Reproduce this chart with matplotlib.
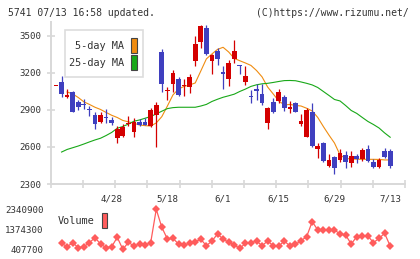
import matplotlib.pyplot as plt
import numpy as np
from matplotlib.patches import Rectangle

# ---- data ----
opens  = [3095, 3125, 3008, 3043, 2962, 2946, 2903, 2860, 2805, 2842,
          2819, 2675, 2692, 2788, 2724, 2805, 2805, 2773, 2859, 3373,
          3050, 3111, 3149, 3095, 3084, 3300, 3454, 3562, 3300, 3378,
          3200, 3151, 3314, 3262, 3130, 3010, 3070, 3030, 2792, 2967,
          2973, 3003, 2906, 2954, 2784, 2684, 2886, 2584, 2630, 2448,
          2516, 2495, 2533, 2468, 2527, 2503, 2584, 2478, 2441, 2568, 2568]
highs  = [3095, 3176, 3070, 3050, 2981, 2987, 2932, 2884, 2886, 2906,
          2846, 2770, 2790, 2850, 2833, 2825, 2833, 2915, 2967, 3392,
          3089, 3224, 3170, 3149, 3192, 3500, 3585, 3589, 3350, 3400,
          3257, 3305, 3468, 3265, 3257, 3062, 3111, 3111, 2925, 2995,
          3070, 3022, 2973, 2967, 2868, 2919, 2954, 2630, 2641, 2543,
          2530, 2584, 2568, 2568, 2543, 2594, 2616, 2500, 2508, 2594, 2584]
lows   = [3095, 3008, 3000, 2886, 2900, 2906, 2854, 2746, 2792, 2797,
          2778, 2630, 2680, 2770, 2679, 2770, 2775, 2765, 2602, 3048,
          2981, 3048, 3013, 3013, 3040, 3257, 3400, 3346, 3192, 3265,
          3070, 3095, 3279, 3195, 3103, 2954, 2981, 2940, 2748, 2873,
          2954, 2894, 2873, 2880, 2770, 2680, 2597, 2513, 2476, 2440,
          2381, 2476, 2432, 2441, 2468, 2489, 2481, 2427, 2427, 2510, 2432]
closes = [3095, 3027, 3025, 2886, 2922, 2940, 2897, 2787, 2859, 2835,
          2792, 2748, 2765, 2795, 2805, 2780, 2782, 2900, 2941, 3111,
          3058, 3202, 3022, 3105, 3165, 3435, 3581, 3354, 3346, 3314,
          3194, 3279, 3378, 3257, 3176, 3005, 3057, 2954, 2919, 2886,
          3048, 2914, 2927, 2886, 2813, 2900, 2608, 2608, 2486, 2495,
          2432, 2554, 2481, 2527, 2503, 2576, 2489, 2441, 2495, 2521, 2448]

ma5 = [np.nan, np.nan, 3046, 3030, 3001, 2966, 2945, 2922, 2904, 2880,
       2857, 2839, 2815, 2804, 2792, 2778, 2773, 2770, 2795, 2846,
       2932, 3022, 3070, 3091, 3103, 3119, 3216, 3314, 3354, 3391,
       3408, 3370, 3318, 3299, 3281, 3261, 3220, 3168, 3086, 3030,
       2973, 2941, 2945, 2937, 2932, 2914, 2892, 2839, 2766, 2697,
       2632, 2535, 2507, 2503, 2501, 2500, 2500, 2500, 2499, 2495, 2495]
ma25 = [np.nan, 2559, 2580, 2594, 2608, 2624, 2641, 2657, 2671, 2693,
        2718, 2752, 2766, 2786, 2809, 2819, 2833, 2847, 2868, 2890,
        2911, 2919, 2922, 2922, 2922, 2922, 2932, 2945, 2969, 2987,
        3003, 3015, 3028, 3050, 3069, 3091, 3104, 3112, 3116, 3123,
        3131, 3138, 3139, 3137, 3127, 3116, 3103, 3082, 3050, 3018,
        2985, 2973, 2936, 2896, 2872, 2839, 2807, 2782, 2754, 2714, 2679]

# volume starts from the second session
volume = [696000, 535000, 728000, 486000, 535000, 728000, 970000, 664000, 486000, 535000,
          986000, 407700, 745000, 567000, 664000, 615000, 728000, 2340900, 1469000, 905000,
          938000, 664000, 615000, 696000, 776000, 889000, 583000, 809000, 1147000, 905000,
          745000, 615000, 454000, 696000, 728000, 809000, 583000, 809000, 583000, 567000,
          809000, 567000, 648000, 825000, 1018000, 1743000, 1340000, 1325000, 1340000, 1340000,
          1147000, 1099000, 664000, 1018000, 1050000, 1050000, 728000, 938000, 1180000, 567000]

date_labels = ['4/28', '5/18', '6/1', '6/15', '6/29', '7/13']
date_pos = [10, 20, 30, 40, 50, 60]
price_ticks = [2300, 2600, 2900, 3200, 3500]

RED = '#d40000'
BLUE = '#3f3fbf'
ORANGE = '#f08c10'
GREEN = '#18a818'
VOLC = '#ff5c5c'
GRID = '#d8d8d8'
TXT = '#333333'
MONO = 'DejaVu Sans Mono'

fig = plt.figure(figsize=(4.2, 2.59), dpi=100)
W, H = 420, 259

# ---- price panel ----
ax = fig.add_axes([50.7 / W, 1 - 184 / H, (405 - 50.7) / W, (184 - 22) / H])
x = np.arange(len(opens))
xlim = (-0.95, 62.66)

ax.plot(x, ma5, color=ORANGE, lw=0.8, zorder=1)
ax.plot(x, ma25, color=GREEN, lw=0.8, zorder=1)

o = np.array(opens); c = np.array(closes)
cols = [RED if cc >= oo else BLUE for oo, cc in zip(o, c)]
ax.vlines(x, lows, highs, colors=cols, lw=0.9, zorder=2)
bot = np.minimum(o, c)
hgt = np.maximum(np.abs(c - o), 10)
ax.bar(x, hgt, bottom=bot, width=0.85, color=cols, lw=0, zorder=3)

ax.set_xlim(*xlim)
ax.set_ylim(2300, 3613)
ax.set_yticks(price_ticks)
ax.set_yticklabels([str(p) for p in price_ticks])
ax.set_xticks(date_pos)
ax.set_xticklabels(date_labels)
ax.set_xticks(np.linspace(xlim[0], xlim[1], 12), minor=True)
ax.tick_params(axis='x', which='major', length=0, pad=7.5, labelsize=6.6, labelcolor=TXT)
ax.tick_params(axis='x', which='minor', direction='inout', length=6, width=1.2, color=GRID)
ax.tick_params(axis='y', direction='inout', length=6, width=1.2, color=GRID,
               pad=4, labelsize=6.6, labelcolor=TXT)
for lab in ax.get_xticklabels() + ax.get_yticklabels():
    lab.set_family(MONO)
for s in ['top', 'right']:
    ax.spines[s].set_visible(False)
for s in ['left', 'bottom']:
    ax.spines[s].set_color(GRID)
    ax.spines[s].set_linewidth(1.4)

# ---- volume panel ----
vx = np.arange(1, len(volume) + 1)
vax = fig.add_axes([50.7 / W, 1 - 249.3 / H, (405 - 50.7) / W, 40 / H])
vax.plot(vx, volume, color=VOLC, lw=0.9, marker='D', markersize=4.0,
         markeredgewidth=0, clip_on=False)
vmin, vmax = min(volume), max(volume)
vax.set_xlim(*xlim)
vax.set_ylim(vmin, vmax)
vax.set_yticks([vmin, (vmin + vmax) // 2, vmax])
vax.set_yticklabels([str(int(v)) for v in [vmin, (vmin + vmax) // 2, vmax]])
vax.set_xticks([])
vax.tick_params(axis='y', length=0, pad=5, labelsize=6.6, labelcolor=TXT)
for lab in vax.get_yticklabels():
    lab.set_family(MONO)
for s in vax.spines.values():
    s.set_visible(False)
vax.patch.set_alpha(0)

# ---- header ----
fig.text(8 / W, 1 - 12.7 / H, '5741 07/13 16:58 updated.', family=MONO,
         size=7.0, color=TXT, va='center', ha='left')
fig.text(409 / W, 1 - 12.7 / H, '(C)https://www.rizumu.net/', family=MONO,
         size=7.0, color=TXT, va='center', ha='right')

# ---- legend box ----
fig.add_artist(Rectangle((65 / W, 1 - 77 / H), 78 / W, 47 / H, transform=fig.transFigure,
                         facecolor='white', edgecolor='#dddddd', lw=1.2, zorder=5))
fig.text(124 / W, 1 - 46 / H, '5-day MA', family=MONO, size=7.4, color=TXT,
         va='center', ha='right', zorder=6)
fig.text(124 / W, 1 - 63.3 / H, '25-day MA', family=MONO, size=7.4, color=TXT,
         va='center', ha='right', zorder=6)
fig.add_artist(Rectangle((131 / W, 1 - 52.7 / H), 6 / W, 15 / H, transform=fig.transFigure,
                         facecolor=ORANGE, edgecolor='#444444', lw=0.8, zorder=6))
fig.add_artist(Rectangle((131 / W, 1 - 69.5 / H), 6 / W, 15 / H, transform=fig.transFigure,
                         facecolor=GREEN, edgecolor='#444444', lw=0.8, zorder=6))

# volume legend
fig.text(94 / W, 1 - 221.5 / H, 'Volume', family=MONO, size=7.4, color=TXT,
         va='center', ha='right')
fig.add_artist(Rectangle((101.5 / W, 1 - 228 / H), 6 / W, 15 / H, transform=fig.transFigure,
                         facecolor=VOLC, edgecolor='#444444', lw=0.8))

fig.savefig('out.png', dpi=100)
